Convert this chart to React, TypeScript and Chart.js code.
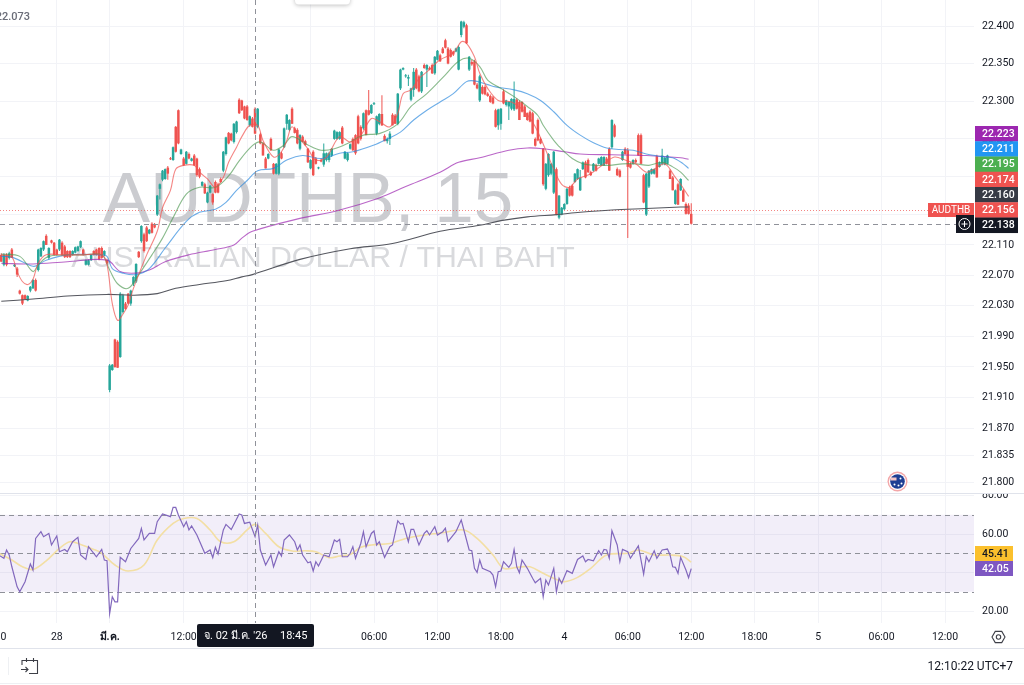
import React, { useEffect, useRef } from "react";
import { Chart, registerables } from "chart.js";

Chart.register(...registerables);

const firstCandleIndex = -41;

// Each row: [open, high, low, close]
const candlesFeb27 = [
  [22.097,22.099,22.088,22.088],[22.084,22.099,22.082,22.097],[22.097,22.099,22.082,22.084],[22.093,22.101,22.091,22.099],
  [22.104,22.106,22.093,22.093],[22.082,22.085,22.081,22.084],[22.079,22.081,22.068,22.071],[22.050,22.051,22.045,22.046],
  [22.044,22.045,22.031,22.033],[22.044,22.045,22.038,22.039],[22.037,22.044,22.036,22.043],[22.050,22.056,22.048,22.055],
  [22.053,22.065,22.052,22.064],[22.064,22.066,22.049,22.050],[22.077,22.105,22.075,22.104],[22.095,22.107,22.094,22.106],
  [22.104,22.116,22.102,22.115],[22.122,22.124,22.110,22.110],[22.093,22.107,22.091,22.106],[22.116,22.117,22.112,22.113],
  [22.113,22.114,22.096,22.097],[22.104,22.105,22.096,22.097],[22.104,22.118,22.102,22.117],[22.113,22.115,22.095,22.097],
  [22.108,22.110,22.093,22.094],[22.102,22.103,22.093,22.094],[22.102,22.103,22.093,22.094],[22.097,22.103,22.096,22.102],
  [22.100,22.108,22.099,22.107],[22.102,22.109,22.101,22.108],[22.107,22.116,22.106,22.115],[22.104,22.105,22.096,22.097],
  [22.084,22.091,22.083,22.090],[22.084,22.091,22.083,22.090],[22.090,22.098,22.089,22.097],[22.102,22.103,22.096,22.097],
  [22.104,22.105,22.096,22.097],[22.106,22.107,22.090,22.091],[22.106,22.108,22.092,22.093],[22.097,22.103,22.095,22.102],
  [22.090,22.092,22.085,22.086],
];
const candlesMar2Open = [
  [21.920,21.954,21.917,21.952],[21.946,21.954,21.945,21.953],[21.986,21.987,21.949,21.950],[21.983,21.985,21.949,21.949],
  [21.963,22.048,21.962,22.046],[22.022,22.046,22.020,22.044],[22.033,22.035,22.025,22.026],[22.046,22.047,22.032,22.033],
  [22.033,22.051,22.030,22.050],[22.059,22.069,22.056,22.068],[22.062,22.086,22.060,22.085],[22.101,22.102,22.093,22.094],
  [22.115,22.136,22.113,22.135],[22.124,22.126,22.100,22.102],[22.133,22.135,22.114,22.115],[22.125,22.131,22.124,22.130],
  [22.138,22.140,22.125,22.126],[22.137,22.139,22.132,22.133],[22.150,22.176,22.148,22.175],[22.184,22.191,22.170,22.190],
  [22.196,22.209,22.194,22.208],[22.197,22.211,22.196,22.210],[22.212,22.214,22.196,22.204],[22.224,22.226,22.222,22.223],
  [22.222,22.240,22.221,22.239],[22.266,22.267,22.232,22.233],[22.288,22.289,22.243,22.244],[22.230,22.237,22.229,22.236],
  [22.224,22.226,22.214,22.215],[22.217,22.234,22.216,22.233],[22.230,22.232,22.223,22.224],[22.221,22.225,22.220,22.224],
  [22.228,22.230,22.214,22.215],[22.224,22.225,22.200,22.202],[22.210,22.212,22.198,22.200],[22.188,22.194,22.187,22.193],
  [22.190,22.192,22.177,22.178],[22.166,22.180,22.165,22.179],[22.179,22.189,22.178,22.188],[22.177,22.178,22.163,22.166],
  [22.193,22.195,22.178,22.179],[22.190,22.192,22.178,22.179],[22.197,22.199,22.192,22.193],[22.208,22.234,22.206,22.233],
  [22.230,22.253,22.228,22.252],[22.258,22.259,22.243,22.244],[22.257,22.258,22.247,22.248],[22.246,22.271,22.244,22.270],
  [22.259,22.274,22.257,22.273],[22.302,22.304,22.283,22.284],[22.301,22.302,22.287,22.288],[22.293,22.294,22.276,22.277],
  [22.293,22.295,22.274,22.275],[22.268,22.281,22.266,22.280],[22.277,22.279,22.265,22.266],[22.290,22.292,22.256,22.257],
  [22.266,22.291,22.264,22.290],
];
const candlesMar2Late = [
  [22.256,22.258,22.243,22.244],[22.244,22.246,22.228,22.228],[22.224,22.226,22.211,22.211],[22.224,22.231,22.223,22.230],
  [22.250,22.252,22.234,22.235],[22.217,22.218,22.203,22.204],[22.204,22.218,22.203,22.217],[22.204,22.237,22.202,22.236],
  [22.231,22.233,22.223,22.224],[22.239,22.265,22.238,22.264],[22.270,22.283,22.262,22.282],[22.262,22.276,22.260,22.275],
  [22.290,22.292,22.270,22.270],[22.264,22.266,22.257,22.258],[22.262,22.264,22.243,22.244],[22.237,22.256,22.235,22.255],
  [22.253,22.255,22.246,22.246],[22.247,22.249,22.241,22.242],[22.237,22.238,22.218,22.219],[22.211,22.223,22.210,22.222],
  [22.233,22.235,22.201,22.202],[22.224,22.226,22.216,22.217],[22.211,22.213,22.210,22.212],[22.222,22.224,22.219,22.220],
  [22.216,22.244,22.213,22.231],[22.222,22.232,22.220,22.231],[22.222,22.233,22.219,22.231],[22.228,22.238,22.226,22.237],
  [22.250,22.262,22.249,22.261],[22.250,22.260,22.249,22.259],[22.250,22.260,22.249,22.259],[22.265,22.267,22.243,22.244],
  [22.224,22.234,22.223,22.233],[22.222,22.232,22.220,22.231],[22.237,22.244,22.236,22.243],[22.250,22.252,22.234,22.235],
  [22.255,22.256,22.229,22.231],[22.280,22.282,22.243,22.244],[22.266,22.268,22.248,22.250],[22.264,22.285,22.262,22.284],
  [22.288,22.289,22.255,22.255],[22.288,22.315,22.281,22.282],[22.284,22.296,22.283,22.295],[22.296,22.299,22.295,22.297],
  [22.257,22.281,22.255,22.280],[22.270,22.284,22.268,22.283],[22.283,22.308,22.267,22.268],[22.254,22.256,22.247,22.247],
  [22.247,22.252,22.244,22.250],[22.250,22.260,22.242,22.257],[22.282,22.284,22.268,22.268],[22.281,22.283,22.270,22.270],[22.270,22.311,22.268,22.310],
  [22.317,22.343,22.315,22.342],[22.342,22.345,22.341,22.344],[22.333,22.336,22.331,22.334],[22.330,22.335,22.320,22.332],
  [22.302,22.318,22.300,22.317],[22.315,22.344,22.306,22.339],[22.342,22.344,22.316,22.317],[22.333,22.335,22.312,22.313],
  [22.313,22.340,22.311,22.339],[22.348,22.350,22.343,22.344],[22.342,22.349,22.319,22.348],[22.344,22.346,22.341,22.342],
  [22.348,22.350,22.336,22.337],[22.337,22.360,22.335,22.359],[22.355,22.368,22.354,22.367],[22.361,22.363,22.352,22.353],
  [22.370,22.372,22.363,22.364],[22.381,22.383,22.370,22.371],[22.370,22.372,22.349,22.350],[22.368,22.370,22.358,22.359],
  [22.366,22.367,22.360,22.362],[22.366,22.371,22.365,22.370],[22.342,22.374,22.341,22.372],[22.388,22.407,22.385,22.406],
  [22.399,22.407,22.397,22.405],[22.401,22.403,22.376,22.377],[22.342,22.360,22.340,22.359],[22.352,22.355,22.347,22.349],
  [22.353,22.355,22.321,22.322],[22.322,22.324,22.316,22.317],
];
const candlesMar3 = [
  [22.301,22.335,22.299,22.333],[22.319,22.321,22.309,22.310],[22.319,22.321,22.308,22.309],[22.310,22.312,22.306,22.307],
  [22.307,22.309,22.298,22.299],[22.305,22.307,22.296,22.297],[22.288,22.290,22.265,22.266],[22.268,22.290,22.262,22.289],
  [22.270,22.291,22.262,22.290],[22.313,22.316,22.296,22.297],[22.295,22.302,22.293,22.301],[22.293,22.300,22.275,22.299],
  [22.290,22.304,22.288,22.303],[22.289,22.326,22.287,22.303],[22.302,22.304,22.289,22.290],[22.299,22.301,22.275,22.275],
  [22.299,22.300,22.285,22.286],[22.293,22.295,22.279,22.279],[22.284,22.285,22.274,22.275],[22.286,22.288,22.272,22.273],
  [22.284,22.286,22.256,22.257],[22.250,22.252,22.240,22.241],[22.275,22.277,22.247,22.248],[22.250,22.252,22.243,22.244],
  [22.237,22.238,22.188,22.190],[22.184,22.218,22.182,22.217],[22.202,22.231,22.200,22.230],[22.204,22.218,22.202,22.217],
  [22.179,22.234,22.177,22.233],[22.210,22.212,22.149,22.150],[22.146,22.176,22.144,22.175],[22.150,22.160,22.149,22.159],
  [22.157,22.165,22.156,22.164],[22.164,22.185,22.163,22.184],[22.186,22.188,22.174,22.175],[22.188,22.190,22.174,22.175],
  [22.193,22.205,22.192,22.204],[22.197,22.211,22.196,22.210],[22.182,22.209,22.181,22.199],[22.210,22.220,22.209,22.219],
  [22.219,22.221,22.198,22.199],[22.222,22.224,22.205,22.206],[22.206,22.208,22.201,22.202],[22.208,22.218,22.207,22.217],
  [22.215,22.217,22.207,22.208],[22.217,22.225,22.216,22.224],[22.215,22.227,22.214,22.226],[22.215,22.227,22.214,22.226],
  [22.224,22.226,22.216,22.217],[22.237,22.239,22.208,22.208],[22.239,22.276,22.237,22.275],[22.268,22.270,22.252,22.253],
  [22.210,22.212,22.201,22.202],[22.208,22.210,22.199,22.200],[22.222,22.234,22.221,22.233],[22.237,22.239,22.229,22.230],
  [22.235,22.238,22.119,22.213],[22.217,22.219,22.211,22.212],[22.217,22.223,22.216,22.222],[22.222,22.224,22.218,22.219],
  [22.255,22.257,22.228,22.228],[22.255,22.257,22.217,22.217],[22.202,22.204,22.165,22.166],[22.150,22.205,22.148,22.204],
  [22.187,22.209,22.185,22.208],[22.204,22.211,22.203,22.210],[22.204,22.211,22.203,22.210],[22.227,22.229,22.199,22.199],
  [22.213,22.220,22.212,22.219],[22.217,22.237,22.215,22.228],[22.216,22.226,22.215,22.225],[22.217,22.229,22.216,22.228],
  [22.208,22.210,22.197,22.197],[22.199,22.201,22.182,22.182],[22.164,22.183,22.163,22.182],[22.190,22.192,22.163,22.163],
  [22.182,22.198,22.181,22.197],[22.182,22.184,22.167,22.167],[22.164,22.166,22.150,22.151],[22.162,22.165,22.150,22.151],
  [22.151,22.165,22.137,22.138],
];

// Each row: [candle index, value]
const ema9 = [
  [-41,22.097],[-37,22.094],[-35,22.075],[-33,22.062],[-31,22.058],[-29,22.065],[-27,22.086],[-24,22.097],[-18,22.097],[-10,22.097],[-3,22.097],[-1,22.084],
  [1,22.033],[3,22.011],[5,22.019],[7,22.031],[9,22.053],[14,22.097],[18,22.128],[20,22.159],[23,22.182],[25,22.210],[28,22.215],[32,22.215],[34,22.206],[37,22.197],[40,22.186],[43,22.199],[45,22.219],[48,22.239],[50,22.253],[53,22.268],
  [56,22.268],[58,22.248],[62,22.226],[65,22.233],[67,22.248],[69,22.266],[72,22.250],[75,22.237],[78,22.222],[82,22.226],[87,22.253],[91,22.246],[95,22.255],[99,22.277],[102,22.273],[106,22.266],[109,22.284],[111,22.310],[114,22.315],[117,22.330],[120,22.339],[125,22.355],[130,22.364],[133,22.379],[135,22.377],[138,22.359],[140,22.337],[143,22.317],[147,22.301],
  [152,22.299],[157,22.286],[161,22.266],[165,22.235],[168,22.210],[171,22.190],[174,22.186],[177,22.197],[182,22.204],[187,22.217],[191,22.226],[195,22.222],[199,22.217],[203,22.206],[206,22.210],[210,22.217],[214,22.199],[216,22.190],[219,22.174],
];
const ema21 = [
  [-41,22.098],[-34,22.095],[-29,22.075],[-27,22.084],[-23,22.095],[-10,22.097],[-3,22.097],[0,22.077],[3,22.059],[7,22.053],[11,22.071],[16,22.097],[20,22.119],[24,22.146],[29,22.177],[34,22.186],[40,22.186],[45,22.201],[49,22.221],[54,22.241],
  [57,22.246],[62,22.235],[66,22.242],[69,22.253],[75,22.242],[80,22.235],[85,22.237],[90,22.244],[96,22.255],[102,22.257],[109,22.270],[114,22.293],[120,22.310],[127,22.335],[132,22.353],[136,22.357],[140,22.346],
  [143,22.328],[148,22.317],[153,22.306],[158,22.293],[162,22.281],[164,22.268],[168,22.248],[170,22.240],[172,22.233],[175,22.224],[179,22.217],[184,22.215],[189,22.215],[194,22.217],[199,22.217],[204,22.215],[209,22.219],[213,22.213],[216,22.206],[219,22.195],
];
const ema50 = [
  [-41,22.095],[-37,22.094],[-29,22.082],[-27,22.084],[-24,22.090],[-16,22.097],[-4,22.097],[-1,22.095],[1,22.079],[5,22.073],[10,22.071],[15,22.079],[21,22.106],[29,22.141],[34,22.153],[40,22.157],[44,22.166],[48,22.182],[52,22.195],[56,22.208],
  [62,22.211],[67,22.222],[73,22.228],[80,22.224],[87,22.231],[92,22.233],[100,22.242],[105,22.250],[110,22.259],[115,22.275],[120,22.288],[125,22.299],[130,22.310],[135,22.326],[138,22.327],[143,22.322],[146,22.319],
  [153,22.315],[158,22.310],[163,22.301],[168,22.286],[173,22.268],[178,22.255],[183,22.245],[188,22.238],[193,22.236],[198,22.235],[203,22.230],[208,22.227],[213,22.225],[217,22.217],[219,22.211],
];
const ma200 = [
  [-41,22.086],[-29,22.085],[-16,22.088],[-1,22.090],[4,22.075],[10,22.073],[15,22.077],[21,22.088],[30,22.097],[40,22.104],[47,22.110],[50,22.119],[54,22.128],
  [72,22.145],[86,22.155],[102,22.172],[112,22.187],[125,22.206],[132,22.219],[140,22.225],[151,22.235],[158,22.238],[164,22.237],[172,22.233],[178,22.230],[190,22.229],[203,22.228],[216,22.225],[219,22.223],
];
const ma500 = [
  [-41,22.036],[-29,22.039],[-16,22.043],[-1,22.045],[9,22.044],[18,22.046],[25,22.053],[34,22.058],[44,22.063],[50,22.068],[54,22.071],
  [72,22.091],[91,22.105],[107,22.112],[125,22.128],[140,22.136],[148,22.142],[158,22.147],[169,22.150],[178,22.153],[190,22.156],[203,22.158],[216,22.160],[219,22.160],
];
const rsiLine = [
  [-42,49.1],[-40,47.4],[-39,51.7],[-38,49.1],[-37,43.0],[-35,32.6],[-34,30.0],[-32,35.2],[-30,44.4],[-29,41.3],[-28,57.7],[-26,61.2],[-25,58.6],[-23,60.3],[-22,54.3],[-20,59.0],[-19,50.8],[-17,52.0],[-16,50.8],[-14,56.0],[-12,58.3],[-11,49.1],[-9,46.8],[-8,53.4],[-5,48.2],[-3,52.0],[-2,46.5],[-1,46.1],
  [0,18.8],[1,27.4],[2,24.8],[3,24.8],[4,47.9],[6,45.6],[8,52.5],[11,57.7],[12,62.9],[13,56.9],[15,60.3],[17,60.3],[18,66.4],[20,70.4],[23,69.0],[24,73.8],[25,73.8],[26,69.9],[28,63.8],[29,66.4],[30,62.1],[31,64.2],[33,59.5],[36,50.0],[38,51.7],[39,47.7],[40,53.1],[41,49.6],[43,62.1],[44,65.0],[46,62.4],[49,70.4],[50,69.9],[51,65.5],[53,66.1],[55,58.6],[56,64.7],[57,51.7],[59,43.9],[61,49.1],[62,43.0],[64,50.8],[65,48.6],[66,56.9],[68,59.5],[70,56.0],[71,51.7],[72,54.3],[73,49.1],[75,45.1],[76,45.6],[77,40.8],[78,45.6],[79,43.4],[81,49.1],[83,48.2],[85,56.9],[86,56.0],[87,57.2],[88,48.2],[90,48.2],
  [91,50.0],[92,53.4],[93,47.4],[95,55.1],[96,61.2],[97,53.4],[99,60.3],[100,61.6],[101,54.3],[102,56.0],[104,47.9],[106,53.4],[107,54.3],[109,66.9],[110,65.2],[111,65.5],[113,56.0],[114,62.4],[115,62.4],[117,54.3],[119,60.3],[120,61.7],[121,59.5],[123,63.8],[124,59.5],[126,61.2],[127,63.0],[128,56.0],[131,61.2],[133,67.3],[134,62.1],[136,51.7],[137,51.3],[138,42.2],[139,40.1],[140,46.5],[141,42.2],[144,40.4],[145,38.7],[146,32.6],[147,40.4],[148,40.8],[149,45.6],[151,42.7],[152,44.8],[153,52.0],[154,43.0],[155,39.9],[156,46.5],[158,42.2],[160,37.0],[161,34.7],[163,37.0],[164,27.4],[165,36.1],[166,33.5],[168,42.2],[169,30.0],[170,37.0],[171,34.4],[173,41.0],[175,39.6],[177,46.8],[179,48.6],[180,45.6],[181,46.8],[183,46.1],[185,51.3],[186,49.1],[187,52.0],[188,51.7],[189,47.4],[190,61.7],[192,54.3],[193,45.6],[194,52.0],[196,50.8],[197,47.4],[200,53.8],[202,39.2],[203,48.2],[204,45.6],[206,51.3],[207,47.4],[209,51.7],[211,52.2],[212,49.1],[213,43.0],[214,42.7],[215,39.6],[216,47.9],[218,41.3],[219,37.3],[220,42.05],
];
const rsiAverage = [
  [-42,50],[-37,46.5],[-33,43],[-29,41.6],[-24,46.1],[-19,52.5],[-15,56],[-11,54.6],[-6,52],[-3,50],[2,43.9],[7,40.8],[13,43.9],[18,56.9],[24,65.5],[28,68.1],[33,68.1],[38,62.1],[42,56],[47,56],[52,62.1],[55,65],[59,60.3],[64,53.4],[69,51.2],[74,51.3],[78,50.8],[83,47.7],[87,48.6],[91,49.4],
  [95,53.1],[99,54.3],[106,55.1],[112,57.7],[119,59.5],[126,60.7],[134,62.1],[139,57.7],[145,49.1],[149,42.2],[154,42.7],[159,43],[164,39.6],[169,36.4],[172,35.2],[177,37.5],[182,42.2],[188,49.1],[196,50],[200,51.7],[206,49.1],[212,49.1],[217,48.2],[220,45.41],
];

const priceTicks = [22.4,22.35,22.3,22.25,22.2,22.15,22.11,22.07,22.03,21.99,21.95,21.91,21.87,21.835,21.8];
const rsiTicks = [80,60,40,20];
const rsiLevels = [70,50,30];
const timeTickIndexes = [-44,-20,0,28,52,76,100,124,148,172,196,220,244,268,292,316];
const timeTickLabels = ["18:00","28","มี.ค.","12:00","18:00","3","06:00","12:00","18:00","4","06:00","12:00","18:00","5","06:00","12:00"];
const priceBadges = [
  ["22.223","#9c27b0"],["22.211","#2196f3"],["22.195","#4caf50"],["22.174","#ef5350"],["22.160","#363a45"],["22.156","#ef5350"],["22.138","#131722"],
];
const rsiBadges = [
  ["45.41","#fbc02d","#131722"],["42.05","#7e57c2","#ffffff"],
];
const lastPrice = 22.156;
const crosshairPrice = 22.138;
const crosshairIndex = 55;

const FONT = "Roboto, 'Noto Sans', sans-serif";
const UP = "#26a69a";
const DOWN = "#ef5350";
const GRID = "#f2f3f7";
const TEXT = "#131722";
const DASH = "#8f9199";

const candles = [...candlesFeb27, ...candlesMar2Open, ...candlesMar2Late, ...candlesMar3];

const toPoints = (rows: number[][]) => rows.map(([x, y]) => ({ x, y }));

const line = (label: string, rows: number[][], color: string, yAxisID: string, width = 1.1, tension = 0.35) => ({
  type: "line" as const,
  label,
  data: toPoints(rows),
  borderColor: color,
  borderWidth: width,
  pointRadius: 0,
  tension,
  yAxisID,
  order: 1,
});

const overlay = {
  id: "overlay",
  beforeDatasetsDraw(chart: any) {
    const { ctx, scales } = chart;
    const { y, rsi, x } = scales;
    ctx.save();
    // watermark
    ctx.textAlign = "center";
    ctx.textBaseline = "alphabetic";
    ctx.fillStyle = "#cbccd0";
    ctx.font = `71px 'Liberation Sans', sans-serif`;
    ctx.fillText("AUDTHB, 15", 308, 222);
    ctx.fillStyle = "#d9dadd";
    ctx.font = `30.3px 'Liberation Sans', sans-serif`;
    ctx.fillText("AUSTRALIAN DOLLAR / THAI BAHT", 323, 267);
    // rsi band
    const top = rsi.getPixelForValue(rsiLevels[0]);
    const bottom = rsi.getPixelForValue(rsiLevels[2]);
    ctx.fillStyle = "rgba(126,87,194,0.1)";
    ctx.fillRect(0, top, x.right, bottom - top);
    ctx.strokeStyle = DASH;
    ctx.lineWidth = 1;
    ctx.setLineDash([5, 4]);
    rsiLevels.forEach((lvl) => {
      const py = Math.round(rsi.getPixelForValue(lvl)) + 0.5;
      ctx.beginPath();
      ctx.moveTo(0, py);
      ctx.lineTo(x.right, py);
      ctx.stroke();
    });
    // last price line
    ctx.strokeStyle = "rgba(239,83,80,0.7)";
    ctx.setLineDash([1, 2]);
    const ly = Math.round(y.getPixelForValue(lastPrice)) + 0.5;
    ctx.beginPath();
    ctx.moveTo(0, ly);
    ctx.lineTo(x.right, ly);
    ctx.stroke();
    ctx.restore();
  },
  afterDatasetsDraw(chart: any) {
    const { ctx, scales } = chart;
    const { y, x } = scales;
    ctx.save();
    ctx.strokeStyle = DASH;
    ctx.lineWidth = 1;
    ctx.setLineDash([5, 4]);
    const cy = Math.round(y.getPixelForValue(crosshairPrice)) + 0.5;
    ctx.beginPath();
    ctx.moveTo(0, cy);
    ctx.lineTo(956, cy);
    ctx.stroke();
    const cx = Math.round(x.getPixelForValue(crosshairIndex)) + 0.5;
    ctx.beginPath();
    ctx.moveTo(cx, 0);
    ctx.lineTo(cx, chart.chartArea.bottom);
    ctx.stroke();
    ctx.restore();
  },
  afterDraw(chart: any) {
    const { ctx } = chart;
    ctx.save();
    ctx.setLineDash([]);
    // clip the top of the RSI axis label, pane separator
    ctx.fillStyle = "#ffffff";
    ctx.fillRect(975, 488, 49, 6);
    ctx.fillStyle = "#e0e3eb";
    ctx.fillRect(0, 493, 1024, 1);
    ctx.fillRect(0, 648, 1024, 1);
    ctx.fillStyle = "#eef0f3";
    ctx.fillRect(0, 683, 1024, 1);
    ctx.fillRect(8, 657, 1, 18);

    // toolbar edge at the top
    ctx.shadowColor = "rgba(0,0,0,0.25)";
    ctx.shadowBlur = 4;
    ctx.shadowOffsetY = 1;
    ctx.fillStyle = "#ffffff";
    ctx.beginPath();
    ctx.roundRect(295, -10, 55, 14.5, 4);
    ctx.fill();
    ctx.shadowColor = "transparent";
    ctx.shadowBlur = 0;
    ctx.shadowOffsetY = 0;

    // legend value
    ctx.font = `500 11px ${FONT}`;
    ctx.fillStyle = "#6a6d78";
    ctx.textAlign = "right";
    ctx.textBaseline = "middle";
    ctx.fillText("22.073", 30, 17.5);

    // price badges
    const top = 126;
    const step = 15.25;
    ctx.textAlign = "left";
    ctx.font = `500 10.5px ${FONT}`;
    priceBadges.forEach(([label, color], n) => {
      const by = top + step * n;
      ctx.fillStyle = color;
      ctx.fillRect(975, by, 43, step + 0.3);
      ctx.fillStyle = "#ffffff";
      ctx.fillText(label, 982, by + step / 2 + 0.5);
    });
    // symbol tag
    ctx.fillStyle = "#ef5350";
    ctx.fillRect(928, 203, 46, 14);
    ctx.fillStyle = "#ffffff";
    ctx.font = `10px ${FONT}`;
    ctx.textAlign = "center";
    ctx.fillText("AUDTHB", 951, 210.5);
    // plus button
    ctx.fillStyle = "#131722";
    ctx.fillRect(956, 215, 18, 18);
    ctx.strokeStyle = "#ffffff";
    ctx.lineWidth = 1;
    ctx.beginPath();
    ctx.arc(964.5, 224, 5.5, 0, Math.PI * 2);
    ctx.moveTo(961.5, 224);
    ctx.lineTo(967.5, 224);
    ctx.moveTo(964.5, 221);
    ctx.lineTo(964.5, 227);
    ctx.stroke();

    // rsi badges
    ctx.textAlign = "left";
    ctx.font = `500 10.5px ${FONT}`;
    rsiBadges.forEach(([label, color, ink], n) => {
      const by = 546 + 15 * n;
      ctx.fillStyle = color;
      ctx.fillRect(975, by, 38, 15);
      ctx.fillStyle = ink;
      ctx.fillText(label, 982, by + 8);
    });

    // crosshair time label
    ctx.fillStyle = "#131722";
    ctx.beginPath();
    ctx.roundRect(197, 624, 117, 23, 2);
    ctx.fill();
    ctx.fillStyle = "#ffffff";
    ctx.font = `11px ${FONT}`;
    ctx.textAlign = "left";
    ctx.fillText("จ. 02 มี.ค. '26", 204, 636);
    ctx.fillText("18:45", 280, 636);

    // clock
    ctx.fillStyle = TEXT;
    ctx.font = `12px ${FONT}`;
    ctx.textAlign = "right";
    ctx.fillText("12:10:22 UTC+7", 1013, 667);

    // settings icon
    ctx.strokeStyle = "#3d3f47";
    ctx.lineWidth = 1.1;
    ctx.beginPath();
    const hx = 998.5, hy = 637, hr = 6.5;
    for (let k = 0; k < 6; k++) {
      const a = Math.PI * (k / 3);
      const px = hx + hr * Math.cos(a);
      const py = hy + hr * Math.sin(a);
      if (k === 0) ctx.moveTo(px, py);
      else ctx.lineTo(px, py);
    }
    ctx.closePath();
    ctx.moveTo(hx + 2.2, hy);
    ctx.arc(hx, hy, 2.2, 0, Math.PI * 2);
    ctx.stroke();

    // go-to-date icon
    ctx.beginPath();
    ctx.moveTo(22, 665);
    ctx.lineTo(22, 660.5);
    ctx.lineTo(37.5, 660.5);
    ctx.lineTo(37.5, 673.5);
    ctx.lineTo(29, 673.5);
    ctx.moveTo(26.5, 658);
    ctx.lineTo(26.5, 662);
    ctx.moveTo(33.5, 658);
    ctx.lineTo(33.5, 662);
    ctx.moveTo(21, 669.5);
    ctx.lineTo(28, 669.5);
    ctx.moveTo(25.5, 667);
    ctx.lineTo(28, 669.5);
    ctx.lineTo(25.5, 672);
    ctx.stroke();

    // flag event marker
    const fx = 897.5, fy = 481.5;
    ctx.fillStyle = "#f3a6a8";
    ctx.beginPath();
    ctx.arc(fx, fy, 10, 0, Math.PI * 2);
    ctx.fill();
    ctx.fillStyle = "#ffffff";
    ctx.beginPath();
    ctx.arc(fx, fy, 8.6, 0, Math.PI * 2);
    ctx.fill();
    ctx.fillStyle = "#1f3f94";
    ctx.beginPath();
    ctx.arc(fx, fy, 7.3, 0, Math.PI * 2);
    ctx.fill();
    ctx.fillStyle = "#f4c6c8";
    ctx.fillRect(fx - 7, fy - 4, 6, 3);
    ctx.fillStyle = "#ffffff";
    [[-3, 3], [3, -3], [4, 2], [1, 4]].forEach(([dx, dy]) => {
      ctx.beginPath();
      ctx.arc(fx + dx, fy + dy, 1, 0, Math.PI * 2);
      ctx.fill();
    });
    ctx.restore();
  },
};

export default function App() {
  const ref = useRef<HTMLCanvasElement>(null);
  useEffect(() => {
    if (!ref.current) return;
    const colors = candles.map((c) => (c[3] >= c[0] ? UP : DOWN));
    const pin = (scale: any) => {
      scale.paddingLeft = 0;
      scale.paddingRight = 0;
      scale.paddingTop = 0;
      scale.paddingBottom = 0;
    };
    const chart = new Chart(ref.current, {
      type: "bar",
      data: {
        datasets: [
          line("RSI", rsiLine, "#8268bd", "rsi", 1.2, 0),
          line("RSI average", rsiAverage, "#f3dfa4", "rsi", 1.6, 0.35),
          line("EMA 9", ema9, "rgba(239,83,80,0.7)", "y"),
          line("EMA 21", ema21, "rgba(76,150,80,0.65)", "y"),
          line("EMA 50", ema50, "rgba(33,130,220,0.65)", "y"),
          line("MA 200", ma200, "rgba(156,39,176,0.7)", "y"),
          line("MA 500", ma500, "#55575f", "y"),
          {
            label: "bodies",
            data: candles.map((c, i) => ({ x: firstCandleIndex + i, y: [c[0], c[3]] })),
            backgroundColor: colors,
            barThickness: 2.5,
            grouped: false,
            inflateAmount: 0,
            minBarLength: 1,
            yAxisID: "y",
            order: 2,
          },
          {
            label: "wicks",
            data: candles.map((c, i) => ({ x: firstCandleIndex + i, y: [c[2], c[1]] })),
            backgroundColor: colors,
            barThickness: 1,
            grouped: false,
            inflateAmount: 0,
            yAxisID: "y",
            order: 3,
          },
        ] as any,
      },
      options: {
        animation: false,
        responsive: false,
        events: [],
        layout: { padding: 0 },
        plugins: { legend: { display: false }, tooltip: { enabled: false } },
        scales: {
          x: {
            type: "linear",
            position: "bottom",
            offset: false,
            min: -41.48,
            max: 326.97,
            afterBuildTicks: (s: any) => {
              s.ticks = timeTickIndexes.map((value) => ({ value }));
            },
            afterFit: (s: any) => {
              s.height = 62;
              pin(s);
            },
            border: { display: false },
            grid: { color: GRID, drawTicks: false, offset: false },
            ticks: {
              autoSkip: false,
              maxRotation: 0,
              padding: 8,
              color: TEXT,
              font: (c: any) => ({
                family: FONT,
                size: 10.5,
                weight: c.tick && c.tick.value === 0 ? "bold" : "normal",
              }),
              callback: (v: any) => timeTickLabels[timeTickIndexes.indexOf(Number(v))] ?? "",
            },
          },
          y: {
            type: "logarithmic",
            position: "right",
            stack: "panes",
            stackWeight: 493,
            min: 21.786,
            max: 22.4347,
            afterBuildTicks: (s: any) => {
              s.ticks = priceTicks.map((value) => ({ value }));
            },
            afterFit: (s: any) => {
              s.width = 50;
              pin(s);
            },
            border: { display: false },
            grid: { color: GRID, drawTicks: false },
            ticks: {
              autoSkip: false,
              padding: 8,
              color: TEXT,
              font: { family: FONT, size: 10.5 },
              callback: (v: any) => Number(v).toFixed(3),
            },
          },
          rsi: {
            type: "linear",
            position: "right",
            stack: "panes",
            stackWeight: 130,
            min: 13.8,
            max: 81.3,
            afterBuildTicks: (s: any) => {
              s.ticks = rsiTicks.map((value) => ({ value }));
            },
            afterFit: (s: any) => {
              s.width = 50;
              pin(s);
            },
            border: { display: false },
            grid: { color: GRID, drawTicks: false },
            ticks: {
              autoSkip: false,
              padding: 8,
              color: TEXT,
              font: { family: FONT, size: 10.5 },
              callback: (v: any) => Number(v).toFixed(2),
            },
          },
        },
      } as any,
      plugins: [overlay],
    });
    return () => chart.destroy();
  }, []);
  return (
    <canvas
      ref={ref}
      width={1024}
      height={685}
      style={{ position: "fixed", left: 0, top: 0, width: 1024, height: 685, display: "block", background: "#fff" }}
    />
  );
}
